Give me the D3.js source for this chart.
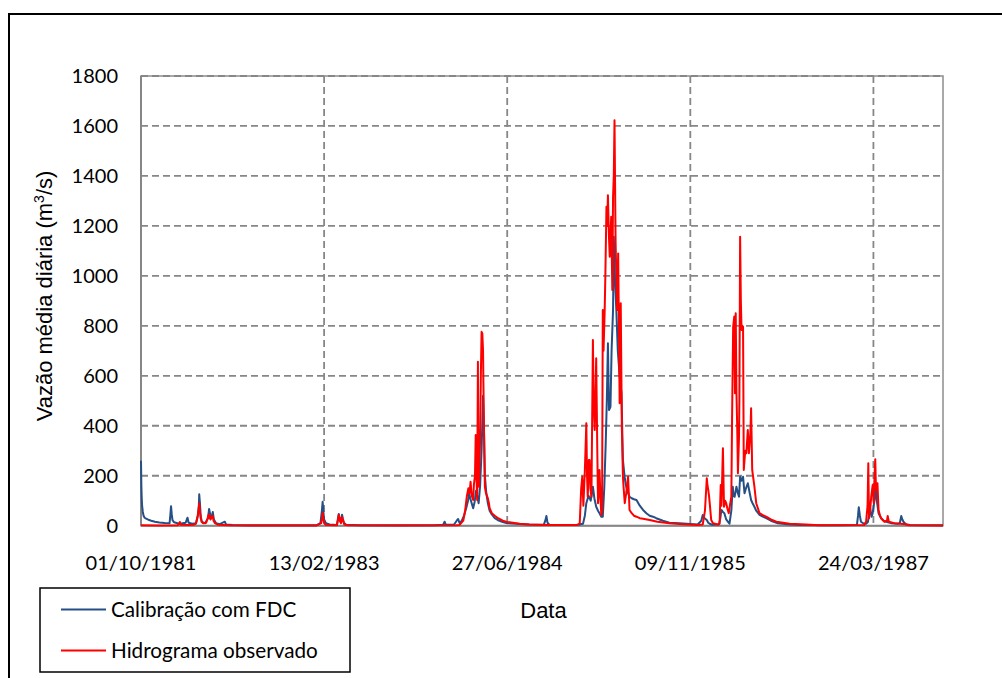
<!DOCTYPE html>
<html>
<head>
<meta charset="utf-8">
<script src="https://cdn.jsdelivr.net/npm/d3@7"></script>
<style>
  html, body { margin: 0; padding: 0; background: #fff; }
  svg { display: block; }
</style>
</head>
<body>
<svg id="chart" width="1002" height="678"></svg>
<script>
// ---------- DATA (days since 01/10/1981, daily mean flow m3/s) ----------
const startDate = "1981-10-01";
const endDate = "1987-09-30";
const yTicks = [0, 200, 400, 600, 800, 1000, 1200, 1400, 1600, 1800];
const xTickDays = [0, 500, 1000, 1500, 2000];
const seriesNames = ["Calibração com FDC", "Hidrograma observado"];

const calibDays = [0,1,2,3,5,7,10,14,20,28,38,50,65,78,80,82,84,86,90,100,110,122,127,130,140,150,155,158,159,161,163,166,175,183,186,189,192,196,199,205,215,229,232,250,300,400,480,490,494,496,498,500,505,515,535,538,540,543,545,548,549,551,554,560,600,700,800,825,829,832,855,862,866,870,876,882,888,893,896,899,903,907,911,915,918,922,926,930,934,936,939,943,947,952,958,966,975,988,1000,1034,1060,1100,1104,1107,1110,1115,1160,1195,1200,1207,1212,1216,1222,1228,1234,1238,1243,1248,1252,1257,1261,1265,1269,1272,1275,1278,1282,1285,1289,1291,1294,1298,1302,1307,1312,1316,1321,1325,1330,1334,1340,1346,1353,1362,1371,1380,1389,1398,1407,1425,1443,1470,1490,1520,1530,1534,1539,1545,1549,1553,1560,1578,1582,1585,1589,1593,1598,1603,1607,1612,1616,1618,1621,1626,1630,1633,1636,1640,1644,1648,1652,1657,1661,1666,1670,1675,1680,1689,1698,1707,1720,1739,1771,1800,1900,1955,1958,1960,1963,1966,1972,1980,1985,1991,1995,1998,2003,2005,2007,2009,2014,2021,2028,2035,2050,2066,2072,2076,2079,2082,2089,2100,2190];
const calibValues = [260,160,110,80,55,40,32,28,24,20,16,13,11,10,40,78,45,22,14,10,9,12,32,12,8,10,40,80,126,90,40,15,10,30,67,45,30,55,25,10,6,16,5,3,2,2,2,10,60,96,55,25,10,5,3,30,47,25,15,35,44,30,12,4,2,2,2,4,16,4,5,20,27,10,20,40,70,100,130,110,90,70,95,140,120,90,160,300,520,420,200,130,91,60,45,30,22,15,10,7,5,4,20,39,12,4,3,4,6,8,40,90,120,100,156,110,76,60,50,36,36,150,330,500,730,463,476,700,863,1157,1000,863,700,600,530,263,190,156,130,116,110,106,103,80,63,50,40,36,30,20,12,10,8,5,20,43,30,23,12,8,4,5,30,63,55,50,25,15,8,60,156,120,116,156,130,116,196,180,196,130,150,170,140,103,90,76,60,43,36,30,20,10,5,3,2,3,40,74,40,16,10,8,15,70,36,50,103,176,140,103,50,30,20,16,10,8,10,39,25,16,5,3,2];

const obsDays = [0,50,100,104,106,108,130,145,150,153,155,157,159,161,163,166,170,178,182,184,186,188,190,193,196,198,202,210,225,240,300,480,492,495,496,498,500,505,535,538,540,543,546,549,551,555,565,700,860,870,880,885,890,894,897,900,903,907,909,912,914,916,918,920,921,923,926,928,930,932,934,936,939,942,947,950,952,958,966,975,988,1000,1034,1060,1100,1190,1198,1202,1205,1208,1212,1216,1218,1220,1223,1225,1227,1230,1234,1236,1239,1243,1246,1248,1250,1252,1255,1257,1259,1261,1263,1266,1268,1271,1273,1275,1278,1280,1282,1284,1287,1289,1291,1293,1296,1298,1300,1303,1305,1307,1310,1313,1316,1318,1321,1325,1330,1333,1334,1340,1346,1353,1362,1371,1389,1410,1443,1480,1520,1534,1540,1545,1547,1549,1551,1553,1557,1562,1575,1580,1583,1585,1586,1589,1592,1595,1598,1601,1605,1608,1612,1614,1617,1620,1622,1624,1626,1628,1630,1633,1634,1636,1638,1640,1642,1644,1646,1650,1653,1657,1660,1664,1666,1669,1672,1675,1680,1689,1698,1707,1720,1735,1771,1816,1850,1975,1980,1984,1986,1988,1991,1994,1998,2001,2003,2005,2007,2011,2014,2018,2021,2030,2037,2039,2042,2057,2089,2098,2190];
const obsValues = [2,1,2,8,15,4,3,4,8,25,40,60,90,55,30,15,10,12,30,42,45,30,25,35,40,20,10,4,3,2,1,1,10,35,52,30,10,3,2,25,43,20,10,35,25,5,2,1,2,3,20,60,120,150,130,176,120,103,163,200,363,200,103,656,300,156,350,600,776,770,700,451,156,130,110,90,70,50,40,30,20,15,8,5,3,3,8,150,196,80,220,410,200,116,263,263,150,116,743,500,383,670,300,90,130,223,100,43,60,863,700,850,1000,1277,1200,1323,1150,1077,1150,1237,943,1317,1400,1623,1130,1000,863,1090,800,490,890,396,196,150,90,130,196,100,63,50,40,36,30,28,23,16,10,6,3,5,60,190,160,143,120,90,23,10,5,8,163,80,130,310,76,100,90,70,50,80,116,423,797,837,530,850,530,400,210,356,500,1157,900,783,800,797,223,300,290,383,290,370,470,223,190,156,90,50,42,36,25,16,8,5,2,3,16,80,250,30,60,116,163,90,200,266,143,170,63,40,30,16,20,39,16,10,6,2,1];

// ---------- DRAW ----------
const svg = d3.select("#chart");
const parse = d3.utcParse("%Y-%m-%d");
const t0 = parse(startDate), t1 = parse(endDate);
const dayToDate = d => d3.utcDay.offset(t0, d);

const plot = { left: 141, right: 943, top: 76, bottom: 525.7 };
const x = d3.scaleUtc().domain([t0, t1]).range([plot.left, plot.right]);
const y = d3.scaleLinear().domain([0, 1800]).range([plot.bottom, plot.top]);

const gridColor = "#878787";
const tickFont = "Lato, 'Open Sans', sans-serif";
const titleFont = "'Liberation Sans', Arial, sans-serif";

// outer frame
svg.append("rect").attr("x", 9).attr("y", 14).attr("width", 1000).attr("height", 700)
  .attr("fill", "none").attr("stroke", "#000").attr("stroke-width", 2);

// plot border
svg.append("rect").attr("x", plot.left).attr("y", plot.top)
  .attr("width", plot.right - plot.left).attr("height", plot.bottom - plot.top)
  .attr("fill", "none").attr("stroke", "#8c8c8c").attr("stroke-width", 1.5);

// horizontal gridlines
svg.append("g").selectAll("line").data(yTicks.filter(v => v > 0)).join("line")
  .attr("x1", plot.left).attr("x2", plot.right)
  .attr("y1", d => y(d)).attr("y2", d => y(d))
  .attr("stroke", gridColor).attr("stroke-width", 1.8).attr("stroke-dasharray", "7,4");

// vertical gridlines
const xTickDates = xTickDays.map(dayToDate);
svg.append("g").selectAll("line").data(xTickDates.filter((d, i) => i > 0)).join("line")
  .attr("x1", d => x(d)).attr("x2", d => x(d))
  .attr("y1", plot.top).attr("y2", plot.bottom)
  .attr("stroke", gridColor).attr("stroke-width", 1.8).attr("stroke-dasharray", "7,4");

// axes lines (left & bottom, solid)
svg.append("line").attr("x1", plot.left).attr("x2", plot.left).attr("y1", plot.top).attr("y2", plot.bottom)
  .attr("stroke", "#868686").attr("stroke-width", 2);
svg.append("line").attr("x1", plot.left).attr("x2", plot.right).attr("y1", plot.bottom).attr("y2", plot.bottom)
  .attr("stroke", "#868686").attr("stroke-width", 2);

// series
const line = d3.line().x(d => x(d.date)).y(d => y(d.v));
const calib = calibDays.map((d, i) => ({ date: dayToDate(d), v: calibValues[i] }));
const obs = obsDays.map((d, i) => ({ date: dayToDate(d), v: obsValues[i] }));
const blue = "#254f85", red = "#ff0000";
svg.append("path").datum(calib).attr("d", line).attr("fill", "none")
  .attr("stroke", blue).attr("stroke-width", 2).attr("stroke-linejoin", "round");
svg.append("path").datum(obs).attr("d", line).attr("fill", "none")
  .attr("stroke", red).attr("stroke-width", 2).attr("stroke-linejoin", "round");

// y tick labels
svg.append("g").selectAll("text").data(yTicks).join("text")
  .attr("x", 118).attr("y", d => y(d)).attr("dy", "0.36em")
  .attr("text-anchor", "end").attr("font-family", tickFont).attr("font-size", 20)
  .attr("fill", "#000").text(d => d);

// x tick labels
const fmt = d3.utcFormat("%d/%m/%Y");
svg.append("g").selectAll("text").data(xTickDates).join("text")
  .attr("x", d => x(d)).attr("y", 570)
  .attr("text-anchor", "middle").attr("font-family", tickFont).attr("font-size", 20)
  .attr("fill", "#000").text(d => fmt(d));

// axis titles
const yt = svg.append("text").attr("transform", "translate(51.5,296) rotate(-90)")
  .attr("text-anchor", "middle").attr("font-family", titleFont).attr("font-size", 22).attr("fill", "#000");
yt.append("tspan").text("Vazão média diária (m");
yt.append("tspan").attr("font-size", 14).attr("dy", -8).text("3");
yt.append("tspan").attr("dy", 8).text("/s)");

svg.append("text").attr("x", 543.5).attr("y", 618).attr("text-anchor", "middle")
  .attr("font-family", titleFont).attr("font-size", 22).attr("fill", "#000").text("Data");

// legend
const lg = svg.append("g");
lg.append("rect").attr("x", 40).attr("y", 588).attr("width", 310).attr("height", 84)
  .attr("fill", "#fff").attr("stroke", "#000").attr("stroke-width", 1.5);
const legendRows = [{ name: seriesNames[0], color: blue, y: 609.5 }, { name: seriesNames[1], color: red, y: 650.5 }];
legendRows.forEach(r => {
  lg.append("line").attr("x1", 61).attr("x2", 106).attr("y1", r.y).attr("y2", r.y)
    .attr("stroke", r.color).attr("stroke-width", 2);
  lg.append("text").attr("x", 111).attr("y", r.y).attr("dy", "0.36em")
    .attr("font-family", tickFont).attr("font-size", 20.7).attr("fill", "#000").text(r.name);
});
</script>
</body>
</html>
